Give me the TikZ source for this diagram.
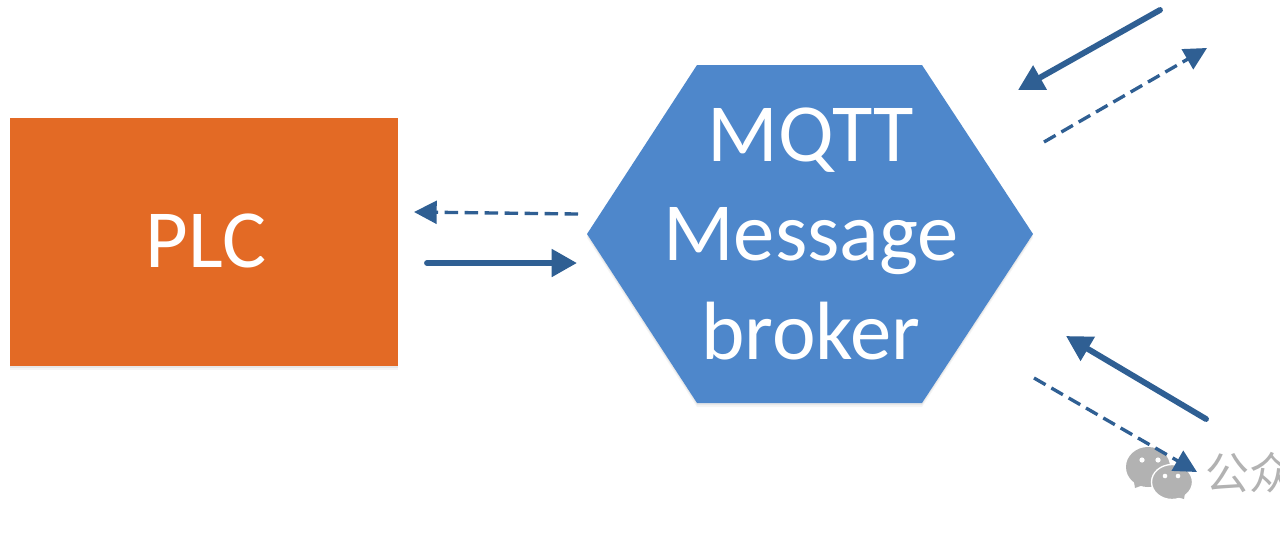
\documentclass[tikz,border=0pt]{standalone}
\usepackage{fontspec}
\setmainfont{Carlito}
\newfontfamily\cjkwm{Noto Sans CJK SC}
\usetikzlibrary{arrows.meta}
\definecolor{plcorange}{HTML}{E36A25}
\definecolor{brokerblue}{HTML}{4E87CB}
\definecolor{arrowblue}{HTML}{2F5F93}
\definecolor{wmgrey}{HTML}{B2B2B2}
\tikzset{
  x=0.75pt,y=-0.75pt,
  softshadow/.style={preaction={fill=black,fill opacity=.05,transform canvas={yshift=-1.5pt}},preaction={fill=black,fill opacity=.04,transform canvas={yshift=-3pt}}},
  bigtext/.style={text=white,font=\fontsize{62}{74.5}\selectfont,align=center,inner sep=0pt},
  solidarrow/.style={arrowblue,line width=4.4pt,line cap=round,-{Triangle[length=19pt,width=20pt]}},
  dasharrow/.style={arrowblue,line width=2.5pt,dash pattern=on 10pt off 5pt,-{Triangle[length=17pt,width=17pt]}},
}
\begin{document}
\begin{tikzpicture}
\useasboundingbox (0,0) rectangle (1280,543);
\fill[white] (0,0) rectangle (1280,543);
% PLC box
\coordinate (plcNW) at (10,118);
\coordinate (plcSE) at (398,366);
\fill[plcorange,softshadow] (plcNW) rectangle (plcSE);
\node[bigtext] (plc) at (206,241) {PLC};
% Broker hexagon
\fill[brokerblue,softshadow] (587,234) -- (697,65) -- (922,65) -- (1033,234) -- (922,403) -- (697,403) -- cycle;
\node[bigtext] (broker) at (811,234) {MQTT\\Message\\broker};
% Watermark
\begin{scope}
\clip (1100,430) rectangle (1280,510);
\fill[wmgrey] (1148,467) ellipse [x radius=22,y radius=20];
\fill[wmgrey] (1134,482) -- (1135,488) -- (1146,484) -- cycle;
\fill[wmgrey,draw=white,line width=1pt] (1172,482) ellipse [x radius=20.5,y radius=17.5];
\fill[wmgrey] (1177,497) -- (1184,499) -- (1185,493) -- cycle;
\fill[white] (1142,460) circle (2.6) (1158,460) circle (2.6) (1165,476) circle (2.3) (1178,476) circle (2.3);
\node[anchor=west,inner sep=0pt,text=wmgrey,font=\cjkwm\fontsize{33}{33}\selectfont] (wm) at (1205,473) {公众};
\end{scope}
% Free ends
\coordinate (a1s) at (578,214); \coordinate (a1e) at (414,212);
\coordinate (a2s) at (427,263); \coordinate (a2e) at (577,263);
\coordinate (b1s) at (1160,10); \coordinate (b1e) at (1018,90);
\coordinate (b2s) at (1044,142); \coordinate (b2e) at (1207,48);
\coordinate (c1s) at (1206,419); \coordinate (c1e) at (1066,336);
\coordinate (c2s) at (1034,378); \coordinate (c2e) at (1197,472);
\draw[dasharrow] (a1s) -- (a1e);
\draw[solidarrow] (a2s) -- (a2e);
\draw[solidarrow] (b1s) -- (b1e);
\draw[dasharrow] (b2s) -- (b2e);
\draw[solidarrow] (c1s) -- (c1e);
\draw[dasharrow] (c2s) -- (c2e);
\end{tikzpicture}
\end{document}
